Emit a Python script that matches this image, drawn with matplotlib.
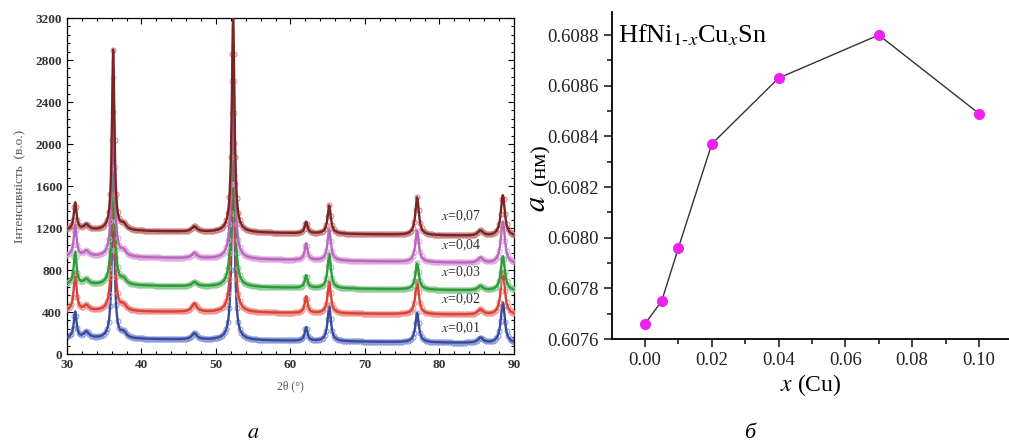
import numpy as np
import matplotlib.pyplot as plt
from matplotlib.ticker import MultipleLocator

plt.rcParams['font.family'] = ['Liberation Serif', 'DejaVu Serif']
plt.rcParams['mathtext.fontset'] = 'stix'

# --- panel a: XRD patterns of HfNi(1-x)Cu(x)Sn ---
peak_pos = [31.1, 32.6, 36.2, 37.6, 47.1, 52.3, 62.1, 65.2, 77.0, 85.5, 88.5]
peak_hwhm = [0.22, 0.4, 0.2, 0.4, 0.4, 0.22, 0.22, 0.26, 0.28, 0.4, 0.32]

compositions = ["0,01", "0,02", "0,03", "0,04", "0,07"]
base_start = [150, 410, 660, 930, 1180]
base_end = [100, 370, 600, 860, 1120]
heights_001 = [250, 60, 1550, 50, 60, 1900, 130, 340, 280, 50, 390]
heights_002 = [370, 50, 1600, 50, 80, 1950, 160, 300, 320, 50, 420]
heights_003 = [310, 50, 1650, 50, 40, 2000, 120, 330, 250, 40, 330]
heights_004 = [300, 50, 1700, 50, 50, 2050, 160, 300, 300, 50, 400]
heights_007 = [260, 50, 1720, 50, 50, 2050, 110, 270, 360, 50, 390]
all_heights = [heights_001, heights_002, heights_003, heights_004, heights_007]
label_y = [210, 480, 740, 1000, 1270]

line_colors = ["#3a4a9a", "#d8423a", "#2f9a3c", "#b868bc", "#7a2424"]
marker_colors = ["#8898d8", "#f0948a", "#88cc90", "#e0a8e0", "#cc8080"]

# --- panel b: lattice parameter ---
x_cu = [0.0, 0.005, 0.01, 0.02, 0.04, 0.07, 0.10]
a_nm = [0.60766, 0.60775, 0.60796, 0.60837, 0.60863, 0.60880, 0.60849]

fig = plt.figure(figsize=(10.09, 4.48), dpi=100)

ax1 = fig.add_axes([0.0664, 0.2098, 0.443, 0.75])
tt = np.arange(30, 90.01, 0.05)
for i in range(len(compositions)):
    y = np.interp(tt, [30, 90], [base_start[i], base_end[i]])
    for p, w, h in zip(peak_pos, peak_hwhm, all_heights[i]):
        y = y + h * w**2 / ((tt - p)**2 + w**2)
    ax1.plot(tt, y, ls='none', marker='o', ms=3.6, mfc='none',
             mec=marker_colors[i], mew=0.7, markevery=4, zorder=2 + 2 * i)
    ax1.plot(tt, y, color=line_colors[i], lw=1.7, zorder=3 + 2 * i)
    ax1.text(80.2, label_y[i], r"$x$=" + compositions[i], fontsize=10, color="#333333")

ax1.set_xlim(30, 90)
ax1.set_ylim(0, 3200)
ax1.xaxis.set_major_locator(MultipleLocator(10))
ax1.xaxis.set_minor_locator(MultipleLocator(2))
ax1.yaxis.set_major_locator(MultipleLocator(400))
ax1.yaxis.set_minor_locator(MultipleLocator(80))
ax1.tick_params(which='both', direction='in', top=True, right=True, width=0.8)
ax1.tick_params(which='major', length=4, labelsize=9.5)
ax1.tick_params(which='minor', length=2)
for lab in ax1.get_xticklabels() + ax1.get_yticklabels():
    lab.set_fontweight('bold')
    lab.set_color('#333333')
for s in ax1.spines.values():
    s.set_linewidth(0.9)
ax1.set_xlabel("2θ (°)", fontsize=8.5, color="#555555", labelpad=7)
ax1.set_ylabel("Інтенсивність  (в.о.)", fontsize=9.5, color="#555555", labelpad=7)

ax2 = fig.add_axes([0.6065, 0.2433, 0.3935, 0.73])
ax2.plot(x_cu, a_nm, color="#333333", lw=1.0, marker='o', ms=7,
         mfc="#ee22ee", mec="#ee22ee", zorder=3)
ax2.set_xlim(-0.0099, 0.109)
ax2.set_ylim(0.6076, 0.608891)
ax2.spines['top'].set_visible(False)
ax2.spines['right'].set_visible(False)
ax2.xaxis.set_major_locator(MultipleLocator(0.02))
ax2.xaxis.set_minor_locator(MultipleLocator(0.01))
ax2.yaxis.set_major_locator(MultipleLocator(0.0002))
ax2.yaxis.set_minor_locator(MultipleLocator(0.0001))
ax2.xaxis.set_major_formatter(plt.FuncFormatter(lambda v, p: f"{v:.2f}"))
ax2.yaxis.set_major_formatter(plt.FuncFormatter(lambda v, p: f"{v:.4f}"))
ax2.tick_params(which='both', direction='out', width=1.2, labelsize=13.5, colors='#222222')
ax2.tick_params(which='major', length=6)
ax2.tick_params(which='minor', length=3.5)
for s in ax2.spines.values():
    s.set_linewidth(1.3)
ax2.set_xlabel(r"$x$ (Cu)", fontsize=17, labelpad=2)
ax2.text(0.015, 0.93, r"HfNi$_{\mathrm{1\text{-}}x}$Cu$_x$Sn", transform=ax2.transAxes,
         fontsize=19, va='center', ha='left')
fig.text(0.536, 0.632, "(нм)", rotation=90, fontsize=16, ha='center', va='center')
fig.text(0.533, 0.545, r"$a$", rotation=90, fontsize=22, ha='center', va='center')

fig.text(0.251, 0.033, r"$a$", fontsize=16, ha='center', va='center')
fig.text(0.743, 0.033, "б", fontsize=16, style='italic', ha='center', va='center')

fig.savefig("out.png", dpi=100)
